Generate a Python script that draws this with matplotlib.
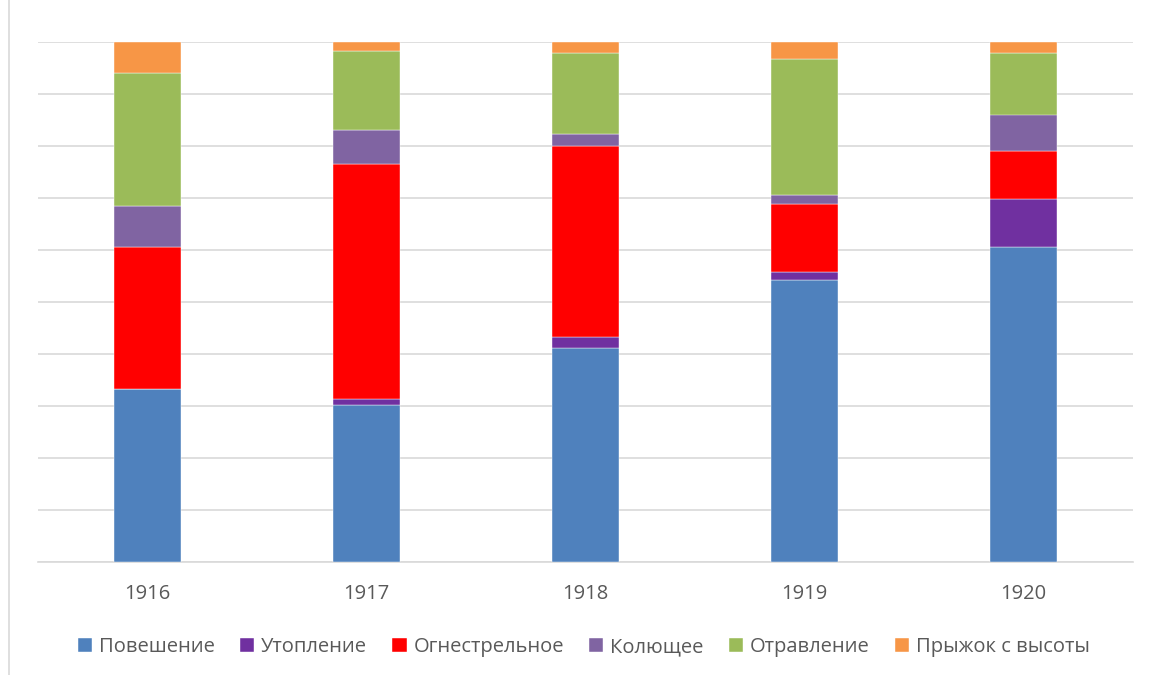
import matplotlib
matplotlib.use("Agg")
import matplotlib.pyplot as plt
from matplotlib.lines import Line2D
import numpy as np

plt.rcParams['font.family'] = ['Open Sans', 'DejaVu Sans']

years = ["1916", "1917", "1918", "1919", "1920"]
series_names = ["Повешение", "Утопление", "Огнестрельное", "Колющее", "Отравление", "Прыжок с высоты"]
povesh = [33.3, 30.1, 41.1, 54.2, 60.5]
utopl = [0.0, 1.1, 2.2, 1.6, 9.2]
ognestr = [27.3, 45.2, 36.7, 13.0, 9.3]
kolyush = [7.9, 6.7, 2.2, 1.7, 7.0]
otravl = [25.4, 15.1, 15.6, 26.2, 11.8]
pryzhok = [6.1, 1.8, 2.2, 3.3, 2.2]
colors = ["#4F81BD", "#7030A0", "#FF0000", "#8064A2", "#9BBB59", "#F79646"]

data = np.array([povesh, utopl, ognestr, kolyush, otravl, pryzhok], dtype=float)
data = data / data.sum(axis=0) * 100

fig = plt.figure(figsize=(11.51, 6.75), dpi=100)
ax = fig.add_axes([38/1151, 113.3/675, (1133-38)/1151, (561.7-41.7)/675])

x = np.arange(len(years))
bottom = np.zeros(len(years))
for name, vals, c in zip(series_names, data, colors):
    ax.bar(x, vals, 0.31, bottom=bottom, color=c, label=name, zorder=3,
           edgecolor='white', linewidth=0.3)
    bottom += vals

ax.set_xlim(-0.5, len(years) - 0.5)
ax.set_ylim(0, 100)
ax.set_yticks(np.arange(0, 101, 10))
ax.set_yticklabels([])
ax.tick_params(axis='y', length=0)
ax.tick_params(axis='x', length=0, pad=16, labelsize=14.5, labelcolor='#595959')
ax.set_xticks(x)
ax.set_xticklabels(years)
ax.grid(axis='y', color='#d9d9d9', linewidth=1.2, zorder=0)
for s in ['top', 'right', 'left']:
    ax.spines[s].set_visible(False)
ax.spines['bottom'].set_color('#d9d9d9')
ax.spines['bottom'].set_linewidth(1.2)

leg = fig.legend(loc='center', bbox_to_anchor=(584/1151, 1 - 647/675), ncol=6,
                 frameon=False, fontsize=14.5, handlelength=0.7, handleheight=0.7,
                 handletextpad=0.35, columnspacing=1.25)
for t in leg.get_texts():
    t.set_color('#595959')

fig.add_artist(Line2D([8.5/1151, 8.5/1151], [0, 1], color='#d9d9d9', linewidth=1.2,
                      transform=fig.transFigure))

fig.savefig("out.png", dpi=100)
